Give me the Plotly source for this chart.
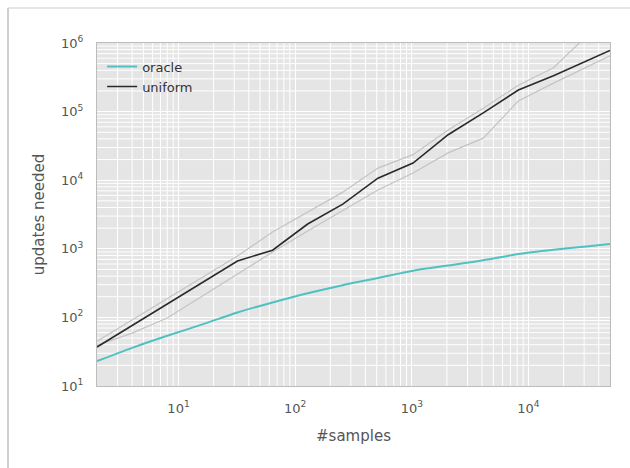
import plotly.graph_objects as go

samples = [2, 4, 8, 16, 32, 64, 128, 256, 512, 1024, 2048, 4096, 8192, 16384, 32768, 50000]
oracle = [23, 36, 54, 79, 118, 165, 225, 295, 375, 480, 570, 680, 840, 970, 1090, 1175]
uniform = [37, 76, 158, 328, 664, 955, 2300, 4470, 10700, 17800, 46000, 96000, 206000, 333000, 556000, 780000]
uniform_hi = [45, 92, 188, 385, 785, 1760, 3470, 6700, 15000, 23600, 54000, 112000, 243000, 435000, 1350000, 2200000]
uniform_lo = [39, 59, 98, 205, 435, 895, 1820, 3600, 7200, 12700, 25000, 41000, 143000, 260000, 462000, 650000]

xtick_vals = [10, 100, 1000, 10000]
xtick_text = ["10<sup>1</sup>", "10<sup>2</sup>", "10<sup>3</sup>", "10<sup>4</sup>"]
ytick_vals = [10, 100, 1000, 10000, 100000, 1000000]
ytick_text = ["10<sup>1</sup>", "10<sup>2</sup>", "10<sup>3</sup>", "10<sup>4</sup>", "10<sup>5</sup>", "10<sup>6</sup>"]

XMIN, XMAX = 2, 50000
YMIN, YMAX = 10, 1000000

fig = go.Figure()

# minor gridlines (2..9 within each decade)
for d in [1, 10, 100, 1000, 10000]:
    for m in range(2, 10):
        v = d * m
        if XMIN < v < XMAX:
            fig.add_shape(type="line", xref="x", yref="paper", x0=v, x1=v, y0=0, y1=1,
                          layer="below", line=dict(color="white", width=1))
for d in [10, 100, 1000, 10000, 100000]:
    for m in range(2, 10):
        v = d * m
        if YMIN < v < YMAX:
            fig.add_shape(type="line", xref="paper", yref="y", x0=0, x1=1, y0=v, y1=v,
                          layer="below", line=dict(color="white", width=1))

for band in (uniform_hi, uniform_lo):
    fig.add_trace(go.Scatter(x=samples, y=band, mode="lines", showlegend=False,
                             line=dict(color="#c4c4c4", width=1.2), hoverinfo="skip"))
fig.add_trace(go.Scatter(x=samples, y=oracle, mode="lines", name="oracle",
                         line=dict(color="#4fc1c1", width=2, shape="spline", smoothing=0.8)))
fig.add_trace(go.Scatter(x=samples, y=uniform, mode="lines", name="uniform",
                         line=dict(color="#2a2a2a", width=1.6)))

axis_common = dict(
    type="log", showgrid=True, gridcolor="white", gridwidth=1,
    zeroline=False, showline=True, linecolor="#bcbcbc", linewidth=1, mirror=True,
    ticks="", tickfont=dict(family="DejaVu Sans", size=13, color="#555555"),
)

fig.update_xaxes(**axis_common, range=[0.30103, 4.69897], tickmode="array", tickvals=xtick_vals, ticktext=xtick_text,
                 ticklabelstandoff=10,
                 title=dict(text="#samples", font=dict(family="DejaVu Sans", size=15, color="#555555"), standoff=15))
fig.update_yaxes(**axis_common, range=[1, 6], tickmode="array", tickvals=ytick_vals, ticktext=ytick_text,
                 ticklabelstandoff=10,
                 title=dict(text="updates needed", font=dict(family="DejaVu Sans", size=15, color="#555555"), standoff=12))

# outer frame lines (screenshot border)
fig.add_shape(type="line", xref="paper", yref="paper", x0=-0.1735, x1=1.05, y0=1.102, y1=1.102,
              line=dict(color="#dcdcdc", width=1.5))
fig.add_shape(type="line", xref="paper", yref="paper", x0=-0.1735, x1=-0.1735, y0=1.102, y1=-0.25,
              line=dict(color="#cfcfcf", width=2))

fig.update_layout(
    width=630, height=468,
    margin=dict(l=97, r=20, t=43, b=82),
    paper_bgcolor="white", plot_bgcolor="#e5e5e5",
    font=dict(family="DejaVu Sans", color="#555555"),
    legend=dict(x=0.01, y=0.975, xanchor="left", yanchor="top", bgcolor="rgba(0,0,0,0)",
                font=dict(family="DejaVu Sans", size=13, color="#333333"), tracegroupgap=0),
    showlegend=True,
)

fig.write_html("out.html")
